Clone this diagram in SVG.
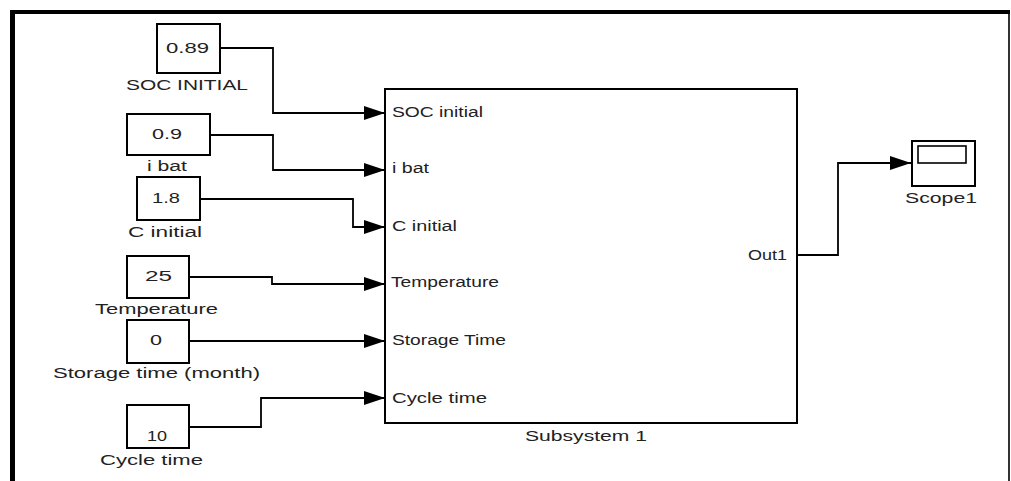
<svg xmlns="http://www.w3.org/2000/svg" width="1011" height="481" viewBox="0 0 1011 481">
<style>
.blk{fill:#fff;stroke:#000;stroke-width:2}
.t{font-family:"Liberation Sans",Arial,sans-serif;font-size:14px;fill:#222}
.w{fill:none;stroke:#000;stroke-width:1.8}
</style>
<defs>
<marker id="ah" markerUnits="userSpaceOnUse" markerWidth="22" markerHeight="16" refX="21" refY="7" orient="auto">
<path d="M0,0 L21,7 L0,14 Z" fill="#000"/>
</marker>
</defs>
<rect width="1011" height="481" fill="#fff"/>
<g id="frame">
<line x1="10" y1="12" x2="1010" y2="12" stroke="#000" stroke-width="4"/>
<line x1="12.5" y1="10" x2="12.5" y2="481" stroke="#000" stroke-width="5"/>
<line x1="1009" y1="12" x2="1009" y2="481" stroke="#000" stroke-width="1.6"/>
</g>
<g id="connectors">
<polyline class="w" points="220,48 273,48 273,113 385,113" marker-end="url(#ah)"/>
<polyline class="w" points="210,135 273,135 273,170 385,170" marker-end="url(#ah)"/>
<polyline class="w" points="200,199 353,199 353,227 385,227" marker-end="url(#ah)"/>
<polyline class="w" points="189,277 272,277 272,284 385,284" marker-end="url(#ah)"/>
<polyline class="w" points="189,341 385,341" marker-end="url(#ah)"/>
<polyline class="w" points="189,427 261,427 261,398 385,398" marker-end="url(#ah)"/>
<polyline class="w" points="797,255 838,255 838,163 911,163" marker-end="url(#ah)"/>
</g>
<g id="soc">
<rect class="blk" x="157" y="24" width="63" height="49"/>
<text class="t" x="166" y="53" textLength="43" lengthAdjust="spacingAndGlyphs">0.89</text>
<text class="t" x="126" y="90" textLength="122" lengthAdjust="spacingAndGlyphs">SOC INITIAL</text>
</g>
<g id="ibat">
<rect class="blk" x="127" y="114" width="83" height="41"/>
<text class="t" x="152" y="139" textLength="30" lengthAdjust="spacingAndGlyphs">0.9</text>
<text class="t" x="147" y="171" textLength="40" lengthAdjust="spacingAndGlyphs">i bat</text>
</g>
<g id="cinit">
<rect class="blk" x="137" y="177" width="63" height="43"/>
<text class="t" x="152" y="203" textLength="28" lengthAdjust="spacingAndGlyphs">1.8</text>
<text class="t" x="128" y="237" textLength="74" lengthAdjust="spacingAndGlyphs">C initial</text>
</g>
<g id="temp">
<rect class="blk" x="127" y="256" width="62" height="42"/>
<text class="t" x="145" y="281" textLength="27" lengthAdjust="spacingAndGlyphs">25</text>
<text class="t" x="95" y="314" textLength="123" lengthAdjust="spacingAndGlyphs">Temperature</text>
</g>
<g id="storage">
<rect class="blk" x="127" y="320" width="62" height="43"/>
<text class="t" x="150" y="345" textLength="12" lengthAdjust="spacingAndGlyphs">0</text>
<text class="t" x="53" y="378" textLength="207" lengthAdjust="spacingAndGlyphs">Storage time (month)</text>
</g>
<g id="cycle">
<rect class="blk" x="127" y="405" width="62" height="43"/>
<text class="t" x="147" y="441" textLength="20" lengthAdjust="spacingAndGlyphs">10</text>
<text class="t" x="100" y="465" textLength="103" lengthAdjust="spacingAndGlyphs">Cycle time</text>
</g>
<g id="subsystem">
<rect class="blk" x="385" y="89" width="412" height="334"/>
<text class="t" x="392" y="117" textLength="91" lengthAdjust="spacingAndGlyphs">SOC initial</text>
<text class="t" x="392" y="173" textLength="37" lengthAdjust="spacingAndGlyphs">i bat</text>
<text class="t" x="392" y="231" textLength="65" lengthAdjust="spacingAndGlyphs">C initial</text>
<text class="t" x="391" y="287" textLength="108" lengthAdjust="spacingAndGlyphs">Temperature</text>
<text class="t" x="392" y="345" textLength="114" lengthAdjust="spacingAndGlyphs">Storage Time</text>
<text class="t" x="392" y="403" textLength="95" lengthAdjust="spacingAndGlyphs">Cycle time</text>
<text class="t" x="748" y="260" textLength="39" lengthAdjust="spacingAndGlyphs">Out1</text>
<text class="t" x="525" y="441" textLength="122" lengthAdjust="spacingAndGlyphs">Subsystem 1</text>
</g>
<g id="scope">
<rect class="blk" x="912" y="141" width="63" height="45"/>
<rect x="918" y="146" width="48" height="17" fill="#fff" stroke="#000" stroke-width="1.6"/>
<text class="t" x="905" y="203" textLength="72" lengthAdjust="spacingAndGlyphs">Scope1</text>
</g>
</svg>
